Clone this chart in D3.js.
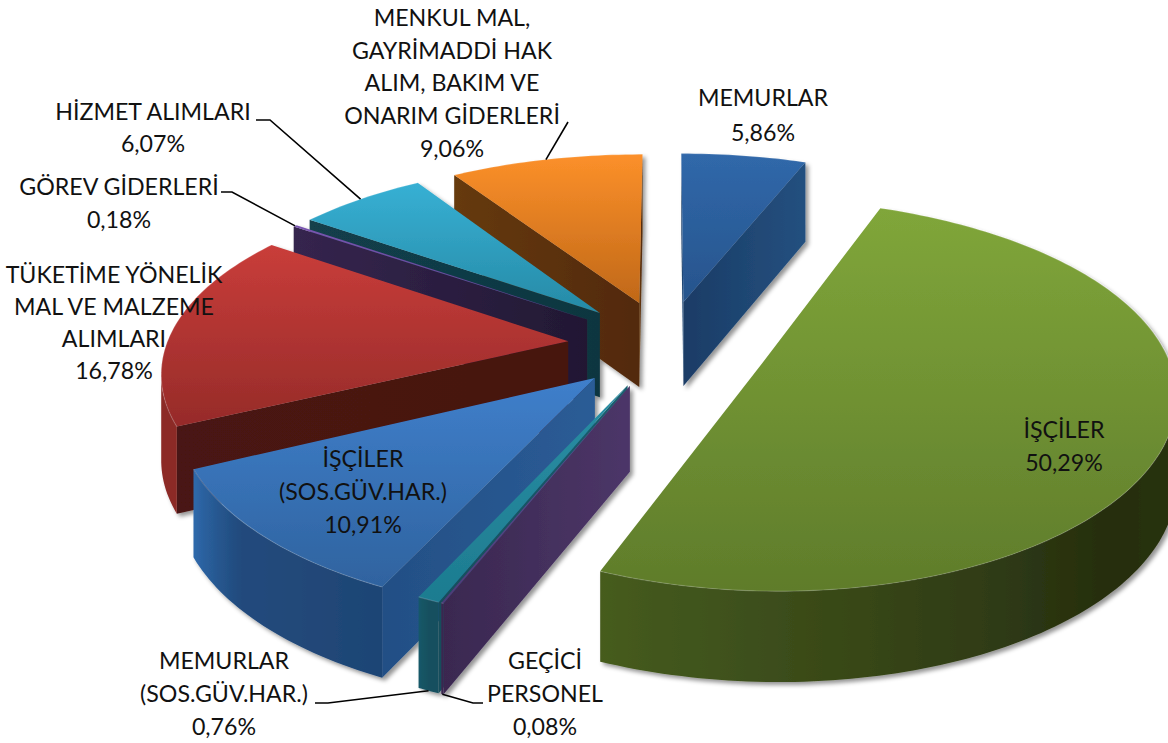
<!DOCTYPE html>
<html><head><meta charset="utf-8">
<style>html,body{margin:0;padding:0;background:#fff;overflow:hidden}svg{display:block}text{font-family:Lato,"Open Sans",sans-serif;fill:#111;font-size:23.2px}</style>
<script src="https://cdn.jsdelivr.net/npm/d3@7"></script></head><body>
<script>
const categories = ["MEMURLAR","İŞÇİLER","GEÇİCİ PERSONEL","MEMURLAR (SOS.GÜV.HAR.)","İŞÇİLER (SOS.GÜV.HAR.)","TÜKETİME YÖNELİK MAL VE MALZEME ALIMLARI","GÖREV GİDERLERİ","HİZMET ALIMLARI","MENKUL MAL, GAYRİMADDİ HAK ALIM, BAKIM VE ONARIM GİDERLERİ"];
const values = [5.86,50.29,0.08,0.76,10.91,16.78,0.18,6.07,9.06];
const explosion = [0.24,0.25,0.225,0.225,0.24,0.24,0.24,0.24,0.24];
const labelLines = [["MEMURLAR","5,86%"],["İŞÇİLER","50,29%"],["GEÇİCİ","PERSONEL","0,08%"],["MEMURLAR","(SOS.GÜV.HAR.)","0,76%"],["İŞÇİLER","(SOS.GÜV.HAR.)","10,91%"],["TÜKETİME YÖNELİK","MAL VE MALZEME","ALIMLARI","16,78%"],["GÖREV GİDERLERİ","0,18%"],["HİZMET ALIMLARI","6,07%"],["MENKUL MAL,","GAYRİMADDİ HAK","ALIM, BAKIM VE","ONARIM GİDERLERİ","9,06%"]];

// styling per slice: top gradient, side-wall gradient, rim wall stops
const topColors = [["#3068aa","#27548c"],["#80a63a","#5f7c2b"],["#6a4a9a","#4e3a78"],["#2a8ea4","#1d7c90"],["#3f7fcb","#2f639f"],["#c93d3a","#962b29"],["#7a55b0","#5a4090"],["#37b0d4","#268aa6"],["#fc902a","#c06818"]];
const sideColors = [["#1a3c66","#24507f"],["#3a4a18","#3a4a18"],["#3a2850","#4c3668"],["#164e5c","#1a5f6e"],["#234f85","#2b5c96"],["#4a1412","#461210"],["#35254e","#221833"],["#123f4c","#103640"],["#663a10","#52290b"]];
const rimColors = [["#24507f","#24507f","#24507f"],["#333f14","#262e0f","#465c1f"],["#3a2850","#3a2850","#3a2850"],["#164f5e","#164f5e","#185a6a"],["#1f4575","#214a7c","#2f6aac"],["#8c2a28","#8c2a28","#9a2e2c"],["#35254e","#35254e","#35254e"],["#123f4c","#123f4c","#123f4c"],["#663a10","#663a10","#663a10"]];
const labelPos = [[763,106,35],[1064,438,33],[545,669,33],[224,669,33],[363,467,33],[114,283,32],[119,195,33],[153,120,32],[452,26,32.7]];
const leaders = [null,null,[[483,703],[473,703]],[[315,703],[328,703]],null,null,[[221,192],[232,192]],[[256,120],[270,120]],[[568,122]]];

const W=1168,H=743,cx=666,cy=345,S=410,Q=189,P=0.165,PX=0.145,D=85,PZ=0.06,RIM=0.98;
const svg=d3.select("body").append("svg").attr("width",W).attr("height",H);
const defs=svg.append("defs");
const shadow=defs.append("filter").attr("id","sh").attr("x","-5%").attr("y","-5%").attr("width","110%").attr("height","110%");
shadow.append("feDropShadow").attr("dx",3).attr("dy",3).attr("stdDeviation",2.2).attr("flood-color","#000").attr("flood-opacity",.42);

function project(X,Y,z){return [cx+S*X/(1+PX*Y), cy-Q*Y/(1+P*Y)+D*z/(1+PZ*Y)];}
const pie=d3.pie().sort(null).value(d=>d);
const arcs=pie(values).map((a,i)=>{const m=(a.startAngle+a.endAngle)/2;
  return {i,a0:a.startAngle,a1:a.endAngle,m,ex:explosion[i]*Math.sin(m),ey:explosion[i]*Math.cos(m)};});
const rimPt=(s,t,z)=>project(s.ex+RIM*Math.sin(t),s.ey+RIM*Math.cos(t),z);
const apex=(s,z)=>project(s.ex,s.ey,z);
const line=d3.line();
const area2=p=>{let a=0;p.forEach((q,k)=>{const r=p[(k+1)%p.length];a+=q[0]*r[1]-r[0]*q[1];});return a/2;};
function gradient(id,cols,vertical){const g=defs.append("linearGradient").attr("id",id).attr("x1",0).attr("y1",0).attr("x2",vertical?0:1).attr("y2",vertical?1:0);
  g.append("stop").attr("offset",0).attr("stop-color",cols[0]);g.append("stop").attr("offset",1).attr("stop-color",cols[1]);}
const root=svg.append("g").attr("filter","url(#sh)");
const order=arcs.slice().sort((a,b)=>b.ey-a.ey);
order.forEach(s=>{
  const g=root.append("g").attr("class","slice");
  gradient("t"+s.i,topColors[s.i],true);gradient("w"+s.i,sideColors[s.i],false);
  const steps=d3.range(0,Math.ceil((s.a1-s.a0)/0.02)).map(k=>s.a0+k*0.02);
  steps.push(s.a1);
  // radial side walls, only the ones facing the viewer
  [s.a0,s.a1].forEach(t=>{
    const q=[apex(s,0),rimPt(s,t,0),rimPt(s,t,1),apex(s,1)];
    const vis=t===s.a0?-area2(q):area2(q);
    if(vis>0) g.append("path").attr("d",line(q)+"Z").attr("fill",`url(#w${s.i})`);
  });
  // curved outer wall: the visible stretch of the rim, shaded with a horizontal gradient
  const shade=d3.scaleLinear().domain([s.a0,s.a0+(s.a1-s.a0)*0.62,s.a1]).range(rimColors[s.i]);
  const vis=[];
  for(let k=0;k<steps.length-1;k++){
    const q=[rimPt(s,steps[k],0),rimPt(s,steps[k+1],0),rimPt(s,steps[k+1],1),rimPt(s,steps[k],1)];
    if(area2(q)<0){ if(!vis.length)vis.push(steps[k]); vis.push(steps[k+1]); }
  }
  if(vis.length){
    const upper=vis.map(t=>rimPt(s,t,0)),lower=vis.map(t=>rimPt(s,t,1)).reverse();
    const xs=[...upper,...lower].map(p=>p[0]),x0=d3.min(xs),x1=d3.max(xs);
    const gr=defs.append("linearGradient").attr("id","r"+s.i).attr("gradientUnits","userSpaceOnUse").attr("x1",x0).attr("x2",x1).attr("y1",0).attr("y2",0);
    vis.slice().sort((a,b)=>rimPt(s,a,0)[0]-rimPt(s,b,0)[0]).forEach(t=>gr.append("stop").attr("offset",(rimPt(s,t,0)[0]-x0)/(x1-x0||1)).attr("stop-color",shade(t)));
    g.append("path").attr("d",line([...upper,...lower])+"Z").attr("fill",`url(#r${s.i})`);
  }
  const top=[apex(s,0),...steps.map(t=>rimPt(s,t,0))];
  g.append("path").attr("d",line(top)+"Z").attr("fill",`url(#t${s.i})`);
  g.append("path").attr("d",line(steps.map(t=>rimPt(s,t,0)))).attr("fill","none").attr("stroke","#fff").attr("stroke-opacity",.16).attr("stroke-width",1.2);
});
// leader lines
arcs.forEach(s=>{
  if(!leaders[s.i])return;
  const end=rimPt(s,s.m,(s.i===2||s.i===3)?1:0);
  svg.append("path").attr("d",line([...leaders[s.i],end])).attr("fill","none").attr("stroke","#000").attr("stroke-width",1.6);
});
// labels
labelLines.forEach((ls,i)=>{const [x,y,dy]=labelPos[i];
  const t=svg.append("text").attr("text-anchor","middle");
  ls.forEach((l,k)=>t.append("tspan").attr("x",x).attr("y",y+k*dy).text(l));
});
</script></body></html>
